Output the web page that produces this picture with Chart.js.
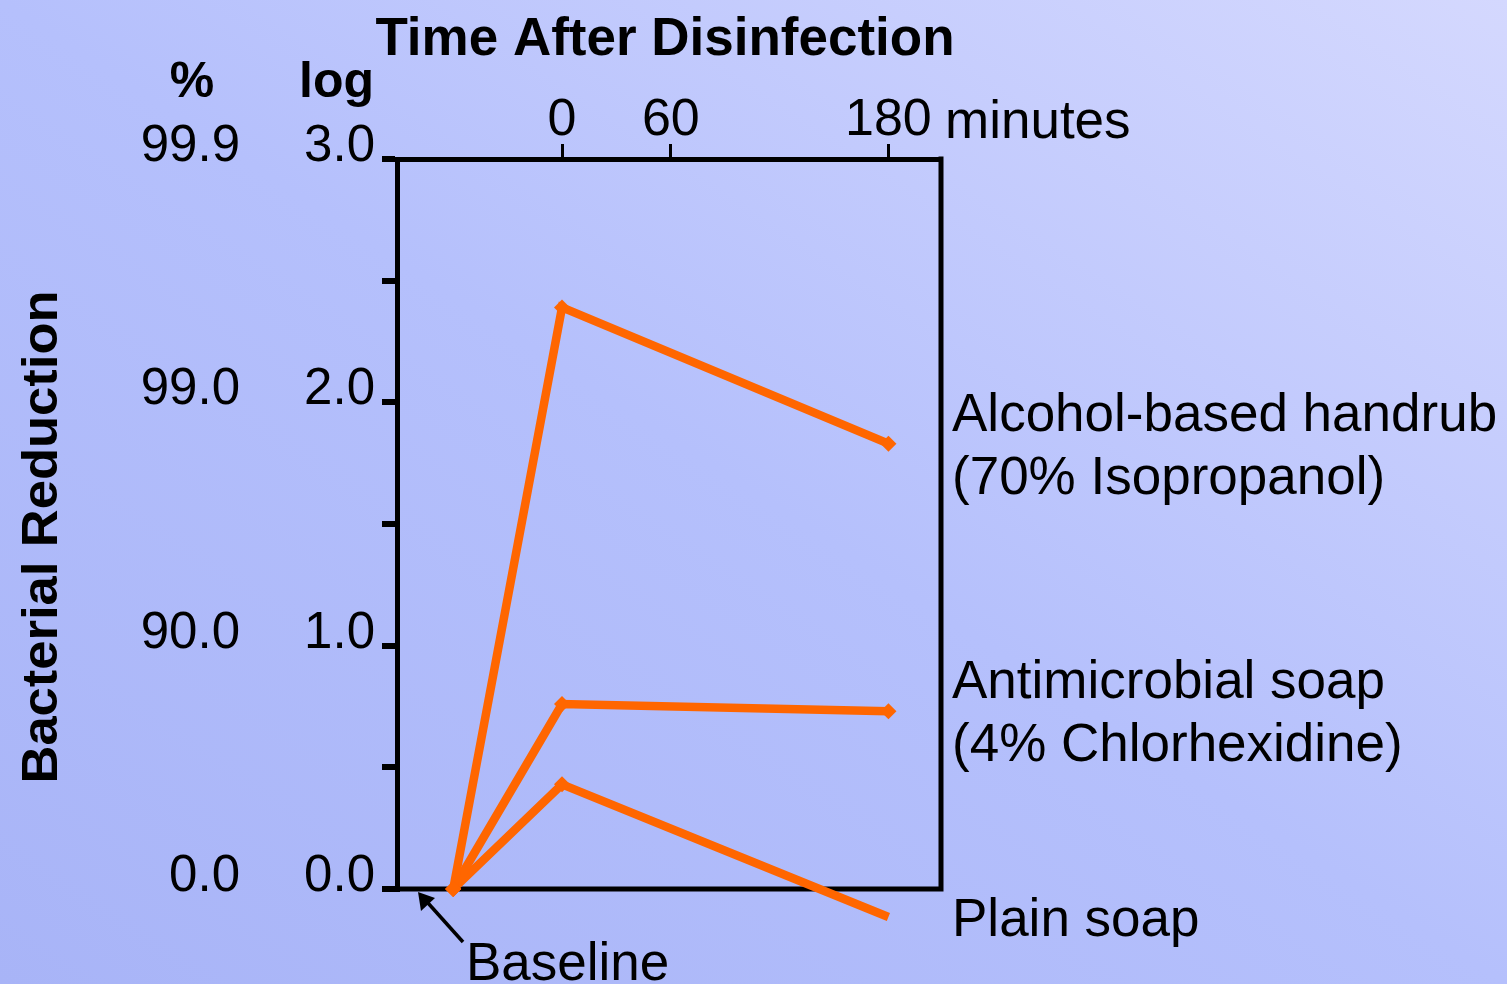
<!DOCTYPE html>
<html>
<head>
<meta charset="utf-8">
<title>Time After Disinfection</title>
<script src="https://cdn.jsdelivr.net/npm/chart.js@4.4.1/dist/chart.umd.min.js"></script>
<style>
  html, body { margin: 0; padding: 0; }
  body {
    width: 1507px;
    height: 984px;
    overflow: hidden;
    background: linear-gradient(to top right, #a8b4f7 0%, #b5c0fc 50%, #d4d8fe 100%);
  }
  canvas { display: block; }
</style>
</head>
<body>
<canvas id="chart" width="1507" height="984"></canvas>
<script>
// Values (log reduction vs minutes after disinfection)
const minutes = [-60, 0, 180];
const alcoholRub = [0, 2.39, 1.83];
const chlorhexidineSoap = [0, 0.76, 0.73];
const plainSoap = [0, 0.43, -0.115];

// Axis ticks and labels
const timeTicks = [0, 60, 180];
const logTicks = [0, 0.5, 1, 1.5, 2, 2.5, 3];
const logLabels = ['0.0', '', '1.0', '', '2.0', '', '3.0'];
const pctLabels = ['0.0', '', '90.0', '', '99.0', '', '99.9'];

const seriesNames = [
    ['Alcohol-based handrub', '(70% Isopropanol)'],
    ['Antimicrobial soap', '(4% Chlorhexidine)'],
    ['Plain soap']
];

const FONT = '"Liberation Sans", Arial, Helvetica, sans-serif';
const ORANGE = '#ff6600';

// Builds one line dataset from the arrays above
function makeDataset(name, values) {
    return {
        label: name,
        data: minutes.map((m, i) => ({ x: m, y: values[i] })),
        borderColor: ORANGE,
        backgroundColor: ORANGE,
        borderWidth: 8.5,
        pointStyle: 'rectRot',
        pointRadius: 8,
        pointBorderWidth: 0,
        pointBackgroundColor: ORANGE,
        tension: 0,
        clip: false
    };
}

// Box lines, titles and annotations
const extras = {
    id: 'extras',
    beforeDatasetsDraw(chart) {
        const { ctx, chartArea, scales } = chart;
        const y0 = scales.y.getPixelForValue(0);
        ctx.save();
        ctx.strokeStyle = '#000';
        ctx.lineWidth = 5;
        ctx.lineCap = 'square';
        ctx.beginPath();
        ctx.moveTo(chartArea.left, y0);
        ctx.lineTo(chartArea.right, y0);
        ctx.lineTo(chartArea.right, chartArea.top);
        ctx.stroke();
        ctx.restore();
    },
    afterDraw(chart) {
        const { ctx } = chart;
        ctx.save();
        ctx.fillStyle = '#000';
        ctx.textBaseline = 'alphabetic';

        // titles
        ctx.font = 'bold 53px ' + FONT;
        ctx.textAlign = 'center';
        ctx.fillText('Time After Disinfection', 665, 55);
        ctx.font = 'bold 50px ' + FONT;
        ctx.fillText('%', 192, 97);
        ctx.textAlign = 'left';
        ctx.fillText('log', 299, 97);

        ctx.font = '53px ' + FONT;
        ctx.fillText('minutes', 945, 138);

        // series labels
        const baselines = [[431, 494], [698, 761], [936]];
        seriesNames.forEach((lines, i) => {
            lines.forEach((txt, j) => ctx.fillText(txt, 952, baselines[i][j]));
        });

        // baseline note with arrow
        ctx.fillText('Baseline', 466, 980);
        ctx.strokeStyle = '#000';
        ctx.lineWidth = 3.5;
        ctx.beginPath();
        ctx.moveTo(463, 942);
        ctx.lineTo(428, 903);
        ctx.stroke();
        ctx.beginPath();
        ctx.moveTo(418, 892);
        ctx.lineTo(421, 911);
        ctx.lineTo(435, 898);
        ctx.closePath();
        ctx.fill();

        // vertical axis title (stretched a bit, like the original)
        ctx.translate(57, 537);
        ctx.rotate(-Math.PI / 2);
        ctx.scale(1.05, 1);
        ctx.font = 'bold 50px ' + FONT;
        ctx.textAlign = 'center';
        ctx.fillText('Bacterial Reduction', 0, 0);
        ctx.restore();
    }
};

new Chart(document.getElementById('chart'), {
    type: 'line',
    data: {
        datasets: [
            makeDataset(seriesNames[0].join(' '), alcoholRub),
            makeDataset(seriesNames[1].join(' '), chlorhexidineSoap),
            makeDataset(seriesNames[2].join(' '), plainSoap)
        ]
    },
    options: {
        responsive: false,
        animation: false,
        layout: { padding: { left: 137, right: 566, top: 0, bottom: 95 } },
        plugins: {
            legend: { display: false },
            tooltip: { enabled: false }
        },
        scales: {
            x: {
                type: 'linear',
                position: 'top',
                min: -91,
                max: 209,
                afterBuildTicks: s => { s.ticks = timeTicks.map(v => ({ value: v })); },
                afterFit: s => { s.height = 159; },
                grid: { drawOnChartArea: false, tickLength: 15, lineWidth: 3, color: '#000' },
                border: { display: true, width: 5, color: '#000' },
                ticks: {
                    color: '#000',
                    font: { family: FONT, size: 52 },
                    padding: -8,
                    maxRotation: 0,
                    autoSkip: false
                }
            },
            y: {
                type: 'linear',
                position: 'left',
                weight: 0,
                min: 0,
                max: 3,
                afterBuildTicks: s => { s.ticks = logTicks.map(v => ({ value: v })); },
                afterFit: s => { s.width = 120; },
                grid: { drawOnChartArea: false, tickLength: 15, lineWidth: 6, color: '#000' },
                border: { display: true, width: 5, color: '#000' },
                ticks: {
                    color: '#000',
                    font: { family: FONT, size: 51 },
                    padding: 7,
                    labelOffset: -12,
                    callback: (v, i) => logLabels[i]
                }
            },
            pct: {
                type: 'linear',
                position: 'left',
                weight: 1,
                min: 0,
                max: 3,
                afterBuildTicks: s => { s.ticks = logTicks.map(v => ({ value: v })); },
                afterFit: s => { s.width = 140; },
                grid: { display: false, drawTicks: false },
                border: { display: false },
                ticks: {
                    color: '#000',
                    font: { family: FONT, size: 51 },
                    padding: 37,
                    labelOffset: -12,
                    callback: (v, i) => pctLabels[i]
                }
            }
        }
    },
    plugins: [extras]
});
</script>
</body>
</html>
